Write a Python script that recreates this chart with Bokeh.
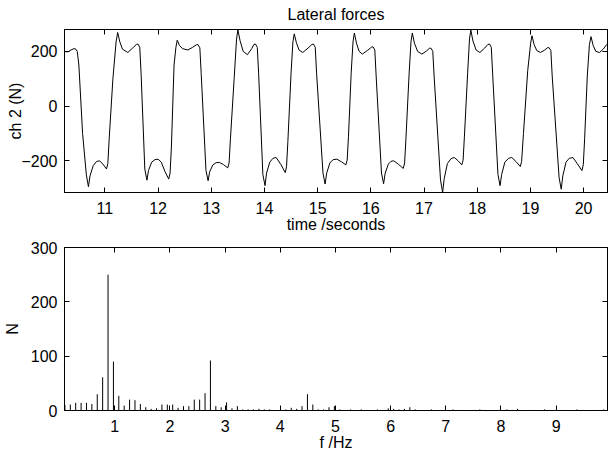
from bokeh.plotting import figure
from bokeh.models import Range1d, LinearAxis, FixedTicker, CustomJSTickFormatter, ColumnDataSource
from bokeh.layouts import column
from bokeh.embed import file_html
from bokeh.resources import INLINE

# ---------------- data ----------------
time_s = [
    10.23, 10.27, 10.31, 10.36, 10.42, 10.45, 10.48, 10.51, 10.58, 10.65, 10.69,
    10.72, 10.78, 10.84, 10.90, 10.96, 11.03, 11.055, 11.08, 11.15, 11.21, 11.24,
    11.28, 11.33, 11.43, 11.52, 11.59, 11.62, 11.655, 11.68, 11.75, 11.79,
    11.82, 11.88, 11.94, 12.00, 12.06, 12.13, 12.20, 12.225, 12.25, 12.30, 12.335, 12.36,
    12.40, 12.46, 12.56, 12.65, 12.72, 12.75, 12.785, 12.81, 12.90, 12.94,
    12.97, 13.03, 13.09, 13.15, 13.23, 13.31, 13.335, 13.36, 13.43, 13.475, 13.50,
    13.54, 13.60, 13.68, 13.76, 13.80, 13.83, 13.865, 13.89, 13.97, 14.01,
    14.04, 14.10, 14.16, 14.22, 14.31, 14.39, 14.415, 14.44, 14.50, 14.535, 14.56,
    14.60, 14.65, 14.72, 14.82, 14.89, 14.92, 14.955, 14.98, 15.10, 15.14,
    15.17, 15.23, 15.29, 15.36, 15.45, 15.53, 15.555, 15.58, 15.63, 15.665, 15.69,
    15.73, 15.78, 15.84, 15.94, 16.01, 16.04, 16.075, 16.10, 16.20, 16.24,
    16.27, 16.33, 16.38, 16.43, 16.52, 16.61, 16.635, 16.66, 16.72, 16.755, 16.78,
    16.82, 16.88, 16.96, 17.05, 17.10, 17.13, 17.165, 17.19, 17.31, 17.35,
    17.38, 17.44, 17.51, 17.57, 17.64, 17.71, 17.735, 17.76, 17.82, 17.855, 17.88,
    17.92, 17.98, 18.05, 18.14, 18.20, 18.23, 18.265, 18.29, 18.39, 18.43,
    18.46, 18.52, 18.59, 18.65, 18.73, 18.81, 18.835, 18.87, 18.95, 19.005, 19.03,
    19.07, 19.12, 19.19, 19.27, 19.32, 19.35, 19.385, 19.41, 19.54, 19.58,
    19.61, 19.67, 19.73, 19.80, 19.88, 19.97, 19.995, 20.02, 20.07, 20.11, 20.14,
    20.18, 20.23, 20.30, 20.37, 20.43, 20.45,
]
force_n = [
    205, 198, 199, 205, 210, 209, 200, 150, -100, -250, -295,
    -255, -218, -203, -200, -212, -230, -210, -120, 100, 235, 269,
    235, 208, 196, 212, 225, 227, 215, 120, -230, -271,
    -235, -205, -196, -194, -205, -240, -267, -245, -150, 150, 215, 241,
    222, 210, 205, 215, 224, 225, 213, 120, -235, -273,
    -240, -215, -207, -206, -214, -226, -208, -120, 100, 245, 279,
    240, 200, 188, 210, 225, 227, 215, 120, -250, -291,
    -245, -205, -191, -188, -214, -243, -222, -130, 120, 235, 264,
    232, 205, 196, 212, 225, 227, 215, 120, -245, -285,
    -245, -208, -196, -194, -204, -215, -198, -110, 120, 235, 267,
    230, 200, 190, 204, 215, 217, 205, 110, -245, -284,
    -245, -212, -202, -200, -213, -228, -208, -120, 120, 235, 267,
    230, 200, 190, 202, 211, 212, 200, 110, -270, -316,
    -265, -210, -192, -188, -200, -215, -198, -110, 120, 245, 278,
    238, 205, 196, 212, 225, 227, 215, 120, -250, -291,
    -250, -205, -191, -188, -203, -221, -203, -100, 130, 230, 257,
    225, 203, 196, 205, 213, 214, 203, 110, -262, -304,
    -255, -205, -191, -188, -210, -236, -214, -120, 110, 225, 254,
    222, 200, 196, 208, 224, 222,
]

# spectrum magnitude per frequency bin (bin k at k * freq_step_hz)
spectrum_n = [
    10, 11, 14, 14, 14, 12, 30, 61, 250, 90,
    27, 9, 20, 19, 12, 6, 3, 4, 11, 11,
    11, 5, 8, 8, 20, 20, 32, 92, 8, 6,
    15, 4, 8, 2, 2, 2, 3, 2, 2, 1,
    2, 2, 5, 3, 8, 30, 11, 2, 2, 6,
    8, 2, 1, 2, 1, 2, 1, 1, 2, 1,
    4, 3, 2, 3, 6, 2, 1, 1, 2, 1,
    1, 1, 2, 1, 1, 1, 1, 2, 1, 1,
    1, 1, 2, 1, 3, 1, 1, 1, 1, 2,
    1, 1, 1, 1, 1, 2, 1, 1, 1, 1,
    2, 1,
]
freq_step_hz = 1 / 10.24
freq_hz = [k * freq_step_hz for k in range(1, len(spectrum_n) + 1)]

time_ticks = [11, 12, 13, 14, 15, 16, 17, 18, 19, 20]
force_ticks = [-200, 0, 200]
freq_ticks = [1, 2, 3, 4, 5, 6, 7, 8, 9]
amp_ticks = [0, 100, 200, 300]

title_text = "Lateral forces"

FONT = "Liberation Sans"
FS = "16px"


def style_axis(ax, ticks, standoff=None):
    ax.ticker = FixedTicker(ticks=ticks)
    ax.minor_tick_line_color = None
    ax.major_tick_in = 5
    ax.major_tick_out = 0
    ax.major_tick_line_color = "black"
    ax.major_tick_line_width = 1
    ax.axis_line_color = "black"
    ax.axis_line_width = 1
    ax.major_label_text_font = FONT
    ax.major_label_text_font_size = FS
    ax.major_label_text_color = "black"
    ax.axis_label_text_font = FONT
    ax.axis_label_text_font_size = FS
    ax.axis_label_text_font_style = "normal"
    ax.axis_label_text_color = "black"
    if standoff is not None:
        ax.major_label_standoff = standoff
    else:
        ax.formatter = CustomJSTickFormatter(code="return ''")
        ax.major_label_standoff = 0


def base_fig(height, xr, yr, top):
    p = figure(width=608, height=height, x_range=xr, y_range=yr,
               output_backend="svg", toolbar_location=None,
               min_border_left=63, min_border_right=1,
               min_border_top=top, min_border_bottom=44)
    p.grid.visible = False
    p.outline_line_color = "black"
    p.outline_line_width = 1
    p.outline_line_alpha = 1
    p.background_fill_color = "white"
    p.border_fill_color = "white"
    return p


# ---------------- top: time series ----------------
p1 = base_fig(236, Range1d(10.24, 20.45), Range1d(-316, 280), 29)
p1.title.text = title_text
p1.title.align = "center"
p1.title.vertical_align = "top"
p1.title.text_font = FONT
p1.title.text_font_size = FS
p1.title.text_font_style = "normal"
p1.title.text_color = "black"
p1.title.standoff = 9

src1 = ColumnDataSource(data=dict(t=time_s, f=force_n))
p1.line("t", "f", source=src1, line_color="black", line_width=1)

style_axis(p1.xaxis[0], time_ticks, 9)
style_axis(p1.yaxis[0], force_ticks, 7)
p1.xaxis[0].axis_label = "time /seconds"
p1.xaxis[0].axis_label_standoff = -1
p1.yaxis[0].axis_label = "ch 2 (N)"
p1.yaxis[0].axis_label_standoff = -6

ax_top = LinearAxis()
style_axis(ax_top, time_ticks)
p1.add_layout(ax_top, "above")
ax_right = LinearAxis()
style_axis(ax_right, force_ticks)
p1.add_layout(ax_right, "right")

# ---------------- bottom: spectrum ----------------
p2 = base_fig(218, Range1d(0.09, 9.93), Range1d(0, 300), 11)

src2 = ColumnDataSource(data=dict(f=freq_hz, n=spectrum_n, z=[0] * len(spectrum_n)))
p2.segment(x0="f", y0="z", x1="f", y1="n", source=src2, line_color="black", line_width=1)

style_axis(p2.xaxis[0], freq_ticks, 9)
style_axis(p2.yaxis[0], amp_ticks, 7)
p2.xaxis[0].axis_label = "f /Hz"
p2.xaxis[0].axis_label_standoff = -1
p2.yaxis[0].axis_label = "N"
p2.yaxis[0].axis_label_standoff = 7

ax_top2 = LinearAxis()
style_axis(ax_top2, freq_ticks)
p2.add_layout(ax_top2, "above")
ax_right2 = LinearAxis()
style_axis(ax_right2, amp_ticks)
p2.add_layout(ax_right2, "right")

layout = column(p1, p2)
open("out.html", "w").write(file_html(layout, INLINE))
